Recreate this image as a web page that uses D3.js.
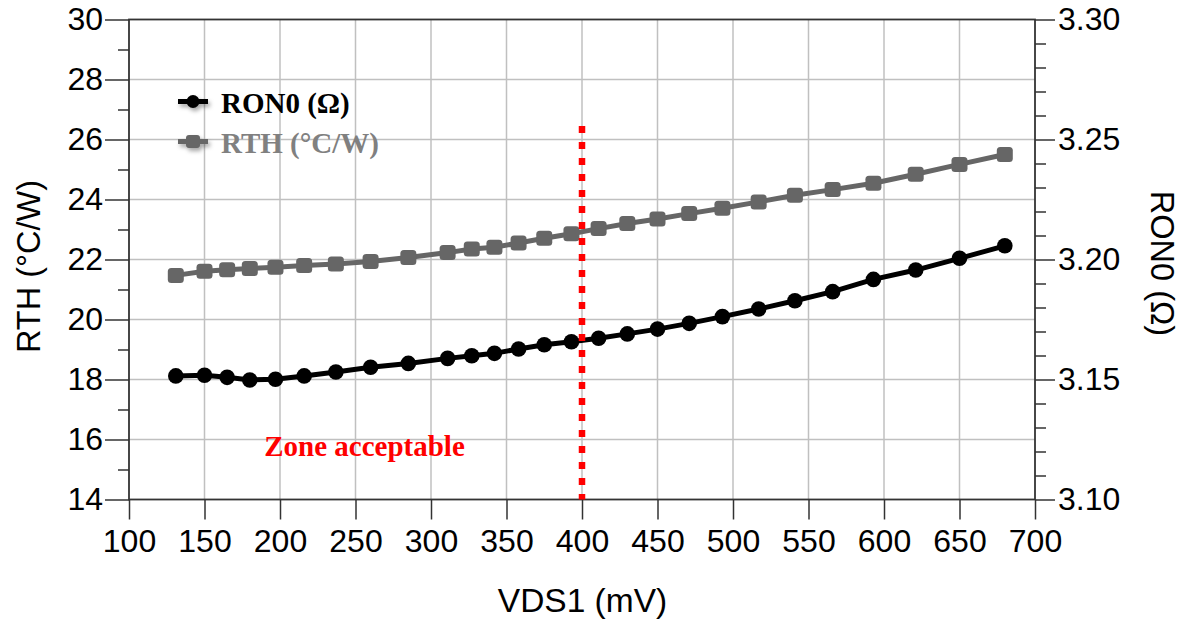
<!DOCTYPE html>
<html>
<head>
<meta charset="utf-8">
<script src="https://cdn.jsdelivr.net/npm/d3@7"></script>
<style>
  html, body { margin: 0; padding: 0; background: #ffffff; }
  svg { display: block; }
</style>
</head>
<body>
<svg id="chart" width="1187" height="621"></svg>
<script>
// ---- Data ----
const vds = [131, 150, 165, 180, 197, 216, 237, 260, 285, 311, 327, 342, 358, 375, 393, 411, 430, 450, 471, 493, 517, 541, 566, 593, 621, 650, 680];
const rth = [21.47, 21.61, 21.66, 21.70, 21.74, 21.80, 21.85, 21.93, 22.07, 22.23, 22.35, 22.41, 22.55, 22.71, 22.86, 23.03, 23.20, 23.35, 23.53, 23.71, 23.92, 24.14, 24.33, 24.54, 24.84, 25.17, 25.50];
const ron0 = [3.1515, 3.1518, 3.1509, 3.1498, 3.1501, 3.1515, 3.1531, 3.1551, 3.1567, 3.1588, 3.1599, 3.1609, 3.1627, 3.1645, 3.1657, 3.1672, 3.1690, 3.1710, 3.1734, 3.1762, 3.1794, 3.1828, 3.1866, 3.1917, 3.1956, 3.2005, 3.2057];
const xTicks = [100, 150, 200, 250, 300, 350, 400, 450, 500, 550, 600, 650, 700];
const yLeftTicks = [14, 16, 18, 20, 22, 24, 26, 28, 30];
const yLeftMinor = [15, 17, 19, 21, 23, 25, 27, 29];
const yRightTicks = [3.10, 3.15, 3.20, 3.25, 3.30];
const yRightMinor = [3.11, 3.12, 3.13, 3.14, 3.16, 3.17, 3.18, 3.19, 3.21, 3.22, 3.23, 3.24, 3.26, 3.27, 3.28, 3.29];
const limitX = 400;
const limitTop = 26.45;
const seriesNames = ["RON0 (\u03A9)", "RTH (\u00B0C/W)"];

// ---- Layout ----
const pL = 129, pR = 1035, pT = 19.5, pB = 499.5;
const svg = d3.select("#chart");
const axisFont = "'Liberation Sans', Arial, sans-serif";
const serifFont = "'Liberation Serif', 'Times New Roman', serif";

const x = d3.scaleLinear().domain([100, 700]).range([pL, pR]);
const yL = d3.scaleLinear().domain([14, 30]).range([pB, pT]);
const yR = d3.scaleLinear().domain([3.10, 3.30]).range([pB, pT]);

const defs = svg.append("defs");
const f = defs.append("filter").attr("id", "shadow").attr("x", "-20%").attr("y", "-50%").attr("width", "150%").attr("height", "220%");
f.append("feDropShadow").attr("dx", 2).attr("dy", 3).attr("stdDeviation", 2).attr("flood-color", "#000").attr("flood-opacity", 0.35);

// ---- Grid ----
const grid = svg.append("g");
grid.selectAll("line.v").data(xTicks.filter(d => d > 100 && d < 700)).enter().append("line")
  .attr("x1", d => x(d)).attr("x2", d => x(d)).attr("y1", pT).attr("y2", pB)
  .attr("stroke", "#c0c0c0").attr("stroke-width", 1.5);
grid.selectAll("line.h").data(yLeftTicks.filter(d => d > 14 && d < 30)).enter().append("line")
  .attr("x1", pL).attr("x2", pR).attr("y1", d => yL(d)).attr("y2", d => yL(d))
  .attr("stroke", "#c0c0c0").attr("stroke-width", 1.5);

// ---- Axes ----
function styleAxis(g) {
  g.select(".domain").remove();
  g.selectAll(".tick line").attr("stroke", "#333").attr("stroke-width", 1.5);
  g.selectAll(".tick text").attr("fill", "#000").style("font-family", axisFont).style("font-size", "32px");
}
svg.append("g").attr("transform", `translate(0,${pB})`)
  .call(d3.axisBottom(x).tickValues(xTicks).tickSize(20).tickPadding(10).tickFormat(d3.format("d")))
  .call(styleAxis);
svg.append("g").attr("transform", `translate(${pL},0)`)
  .call(d3.axisLeft(yL).tickValues(yLeftTicks).tickSize(24).tickPadding(2).tickFormat(d3.format("d")))
  .call(styleAxis);
svg.append("g").attr("transform", `translate(${pL},0)`)
  .call(d3.axisLeft(yL).tickValues(yLeftMinor).tickSize(11).tickFormat(""))
  .call(styleAxis);
svg.append("g").attr("transform", `translate(${pR},0)`)
  .call(d3.axisRight(yR).tickValues(yRightTicks).tickSize(20).tickPadding(3).tickFormat(d3.format(".2f")))
  .call(styleAxis);
svg.append("g").attr("transform", `translate(${pR},0)`)
  .call(d3.axisRight(yR).tickValues(yRightMinor).tickSize(11).tickFormat(""))
  .call(styleAxis);

// frame
svg.append("rect").attr("x", pL).attr("y", pT).attr("width", pR - pL).attr("height", pB - pT)
  .attr("fill", "none").attr("stroke", "#333").attr("stroke-width", 1.8);

// ---- Axis titles ----
svg.append("text").attr("x", 582.5).attr("y", 612)
  .attr("text-anchor", "middle").style("font-family", axisFont).style("font-size", "33.5px").text("VDS1 (mV)");
svg.append("text").attr("transform", `translate(40,${(pT + pB) / 2 + 7}) rotate(-90)`)
  .attr("text-anchor", "middle").style("font-family", axisFont).style("font-size", "32.5px").text("RTH (\u00B0C/W)");
svg.append("text").attr("transform", `translate(1151,${(pT + pB) / 2 + 4}) rotate(90)`)
  .attr("text-anchor", "middle").style("font-family", axisFont).style("font-size", "32.5px").text("RON0 (\u03A9)");

// ---- Series ----
const ptsRth = vds.map((v, i) => [v, rth[i]]);
const ptsRon = vds.map((v, i) => [v, ron0[i]]);

svg.append("path").datum(ptsRth)
  .attr("d", d3.line().x(d => x(d[0])).y(d => yL(d[1])))
  .attr("fill", "none").attr("stroke", "#666666").attr("stroke-width", 5);
svg.append("g").selectAll("rect").data(ptsRth).enter().append("rect")
  .attr("x", d => x(d[0]) - 8).attr("y", d => yL(d[1]) - 7.5).attr("width", 16).attr("height", 15)
  .attr("rx", 3.5).attr("fill", "#666666");

svg.append("path").datum(ptsRon)
  .attr("d", d3.line().x(d => x(d[0])).y(d => yR(d[1])))
  .attr("fill", "none").attr("stroke", "#000").attr("stroke-width", 5);
svg.append("g").selectAll("circle").data(ptsRon).enter().append("circle")
  .attr("cx", d => x(d[0])).attr("cy", d => yR(d[1])).attr("r", 7.8).attr("fill", "#000");

// ---- Limit line ----
svg.append("line").attr("x1", x(limitX)).attr("x2", x(limitX))
  .attr("y1", yL(limitTop)).attr("y2", pB)
  .attr("stroke", "#ff0000").attr("stroke-width", 6.5).attr("stroke-dasharray", "7,9");
svg.append("text").attr("x", 364.5).attr("y", 456).attr("text-anchor", "middle")
  .style("font-family", serifFont).style("font-weight", "bold").style("font-size", "29px")
  .attr("fill", "#ff0000").text("Zone acceptable");

// ---- Legend ----
const leg = svg.append("g");
const legItems = [
  { name: seriesNames[0], color: "#000", text: "#000", shape: "circle", y: 101.5 },
  { name: seriesNames[1], color: "#666666", text: "#808080", shape: "rect", y: 141.5 }
];
legItems.forEach(it => {
  const g = leg.append("g").attr("filter", "url(#shadow)");
  g.append("line").attr("x1", 178).attr("x2", 208).attr("y1", it.y).attr("y2", it.y)
    .attr("stroke", it.color).attr("stroke-width", 5);
  if (it.shape === "circle") {
    g.append("circle").attr("cx", 193).attr("cy", it.y).attr("r", 6.5).attr("fill", it.color);
  } else {
    g.append("rect").attr("x", 186).attr("y", it.y - 6.5).attr("width", 14).attr("height", 13).attr("rx", 3).attr("fill", it.color);
  }
  leg.append("text").attr("x", 221).attr("y", it.y + 11.5)
    .style("font-family", serifFont).style("font-weight", "bold").style("font-size", "29px")
    .attr("fill", it.text).text(it.name);
});
</script>
</body>
</html>
